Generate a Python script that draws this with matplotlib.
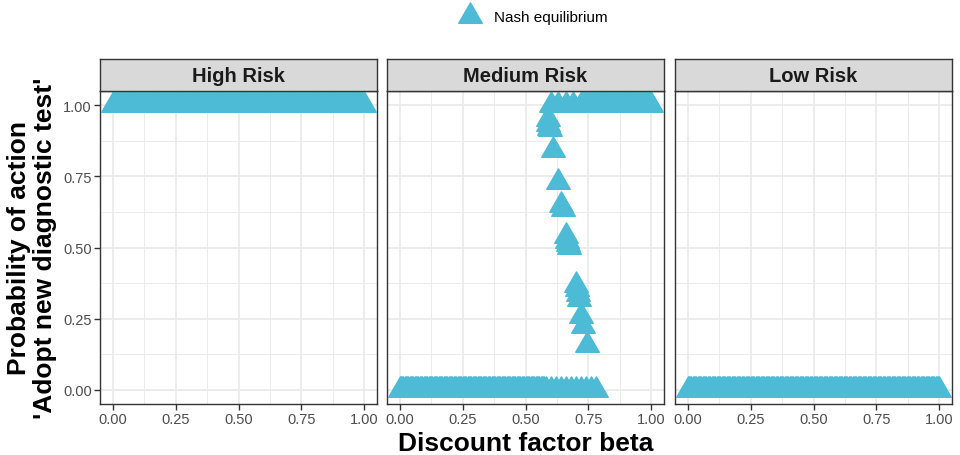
import matplotlib
matplotlib.use("Agg")
import matplotlib.pyplot as plt
from matplotlib.path import Path
from matplotlib.lines import Line2D

plt.rcParams['font.family'] = ['Liberation Sans', 'DejaVu Sans']

# ---------------- data ----------------
panels = ["High Risk", "Medium Risk", "Low Risk"]

# discount factor values swept in the model
beta_grid = [
    0.000, 0.005, 0.010, 0.015, 0.020, 0.025, 0.030, 0.035, 0.040, 0.045,
    0.050, 0.055, 0.060, 0.065, 0.070, 0.075, 0.080, 0.085, 0.090, 0.095,
    0.100, 0.105, 0.110, 0.115, 0.120, 0.125, 0.130, 0.135, 0.140, 0.145,
    0.150, 0.155, 0.160, 0.165, 0.170, 0.175, 0.180, 0.185, 0.190, 0.195,
    0.200, 0.205, 0.210, 0.215, 0.220, 0.225, 0.230, 0.235, 0.240, 0.245,
    0.250, 0.255, 0.260, 0.265, 0.270, 0.275, 0.280, 0.285, 0.290, 0.295,
    0.300, 0.305, 0.310, 0.315, 0.320, 0.325, 0.330, 0.335, 0.340, 0.345,
    0.350, 0.355, 0.360, 0.365, 0.370, 0.375, 0.380, 0.385, 0.390, 0.395,
    0.400, 0.405, 0.410, 0.415, 0.420, 0.425, 0.430, 0.435, 0.440, 0.445,
    0.450, 0.455, 0.460, 0.465, 0.470, 0.475, 0.480, 0.485, 0.490, 0.495,
    0.500, 0.505, 0.510, 0.515, 0.520, 0.525, 0.530, 0.535, 0.540, 0.545,
    0.550, 0.555, 0.560, 0.565, 0.570, 0.575, 0.580, 0.585, 0.590, 0.595,
    0.600, 0.605, 0.610, 0.615, 0.620, 0.625, 0.630, 0.635, 0.640, 0.645,
    0.650, 0.655, 0.660, 0.665, 0.670, 0.675, 0.680, 0.685, 0.690, 0.695,
    0.700, 0.705, 0.710, 0.715, 0.720, 0.725, 0.730, 0.735, 0.740, 0.745,
    0.750, 0.755, 0.760, 0.765, 0.770, 0.775, 0.780, 0.785, 0.790, 0.795,
    0.800, 0.805, 0.810, 0.815, 0.820, 0.825, 0.830, 0.835, 0.840, 0.845,
    0.850, 0.855, 0.860, 0.865, 0.870, 0.875, 0.880, 0.885, 0.890, 0.895,
    0.900, 0.905, 0.910, 0.915, 0.920, 0.925, 0.930, 0.935, 0.940, 0.945,
    0.950, 0.955, 0.960, 0.965, 0.970, 0.975, 0.980, 0.985, 0.990, 0.995,
    1.000]

# High risk: always adopt (prob 1)
high_x = beta_grid
high_y = [1.0] * len(beta_grid)

# Low risk: never adopt (prob 0)
low_x = beta_grid
low_y = [0.0] * len(beta_grid)

# Medium risk: pure equilibria at 1 (sparse 0.60-0.69, dense from 0.72)
mid_one_x = [0.60, 0.63, 0.66, 0.69] + beta_grid[144:]
# Medium risk: pure equilibria at 0 (dense to 0.58, sparser up to 0.78)
mid_zero_x = beta_grid[:117] + [0.60, 0.62, 0.64, 0.66, 0.68, 0.70,
                                0.72, 0.74, 0.76, 0.78]
# Medium risk: mixed equilibria
mid_mix_x = [0.588, 0.590, 0.592, 0.596, 0.609, 0.628, 0.639, 0.647,
             0.660, 0.664, 0.668, 0.672, 0.699, 0.703, 0.707, 0.711,
             0.721, 0.728, 0.744]
mid_mix_y = [0.950, 0.935, 0.920, 0.915, 0.842, 0.730, 0.649, 0.635,
             0.540, 0.523, 0.511, 0.503, 0.367, 0.354, 0.337, 0.319,
             0.260, 0.225, 0.158]

x_ticks = [0.00, 0.25, 0.50, 0.75, 1.00]
x_tick_labels = ["0.00", "0.25", "0.50", "0.75", "1.00"]
y_ticks = [0.00, 0.25, 0.50, 0.75, 1.00]
y_tick_labels = ["0.00", "0.25", "0.50", "0.75", "1.00"]
minor_ticks = [0.125, 0.375, 0.625, 0.875]

# ---------------- style ----------------
W, H = 960, 456
fig = plt.figure(figsize=(W / 100, H / 100), dpi=100)

point_color = "#4DBBD5"
border_color = "#333333"
grid_color = "#EBEBEB"
strip_fill = "#D9D9D9"

# ggplot-style triangle centred on its centroid
tri = Path([(0, 1), (-0.866, -0.5), (0.866, -0.5), (0, 1)],
           [Path.MOVETO, Path.LINETO, Path.LINETO, Path.CLOSEPOLY])
ms = 19.6  # points

panel_lefts = [100, 387, 675]
panel_w = 277
panel_top, panel_bot = 92, 405
strip_top = 60

series = [
    [(high_x, high_y)],
    [(mid_zero_x, [0.0] * len(mid_zero_x)),
     (mid_one_x, [1.0] * len(mid_one_x)),
     (mid_mix_x, mid_mix_y)],
    [(low_x, low_y)],
]

for i, (name, left) in enumerate(zip(panels, panel_lefts)):
    ax = fig.add_axes([left / W, (H - panel_bot) / H, panel_w / W,
                       (panel_bot - panel_top) / H])
    ax.set_xlim(-0.05, 1.05)
    ax.set_ylim(-0.05, 1.05)
    ax.set_xticks(x_ticks)
    ax.set_xticklabels(x_tick_labels)
    ax.set_yticks(y_ticks)
    ax.set_xticks(minor_ticks, minor=True)
    ax.set_yticks(minor_ticks, minor=True)
    ax.tick_params(which='major', direction='out', length=4, width=1.0,
                   color=border_color, labelsize=10.5, labelcolor="#4D4D4D",
                   pad=2)
    ax.tick_params(which='minor', length=0)
    if i == 0:
        ax.set_yticklabels(y_tick_labels)
    else:
        ax.set_yticklabels([])
        ax.tick_params(axis='y', which='major', length=0)
    ax.grid(True, which='major', color=grid_color, linewidth=1.3, zorder=0)
    ax.grid(True, which='minor', color=grid_color, linewidth=0.7, zorder=0)
    ax.set_axisbelow(True)
    for sp in ax.spines.values():
        sp.set_color(border_color)
        sp.set_linewidth(1.0)
    for xs, ys in series[i]:
        ax.plot(xs, ys, linestyle='none', marker=tri, markersize=ms,
                markerfacecolor=point_color, markeredgecolor=point_color,
                markeredgewidth=1.0, zorder=3)
    # strip
    sax = fig.add_axes([left / W, (H - panel_top) / H, panel_w / W,
                        (panel_top - strip_top) / H])
    sax.set_facecolor(strip_fill)
    sax.set_xticks([])
    sax.set_yticks([])
    for sp in sax.spines.values():
        sp.set_color(border_color)
        sp.set_linewidth(1.0)
    sax.text(0.5, 0.47, name, transform=sax.transAxes, ha='center',
             va='center', fontsize=14.5, fontweight='bold', color='#1A1A1A')

# axis titles
fig.text(525.5 / W, (H - 444) / H, "Discount factor beta", ha='center',
         va='center', fontsize=19, fontweight='bold', color='black')
fig.text(32 / W, (H - 248) / H, "Probability of action\n'Adopt new diagnostic test'",
         ha='center', va='center', rotation=90, fontsize=19,
         fontweight='bold', color='black', linespacing=1.1,
         multialignment='center')

# legend
handle = Line2D([], [], linestyle='none', marker=tri, markersize=ms,
                markerfacecolor=point_color, markeredgecolor=point_color,
                markeredgewidth=1.0)
fig.legend([handle], ["Nash equilibrium"], loc='center',
           bbox_to_anchor=(533 / W, (H - 18) / H), frameon=False,
           fontsize=11, handletextpad=0.8, borderpad=0, handlelength=1.5)

fig.savefig("out.png", dpi=100)
